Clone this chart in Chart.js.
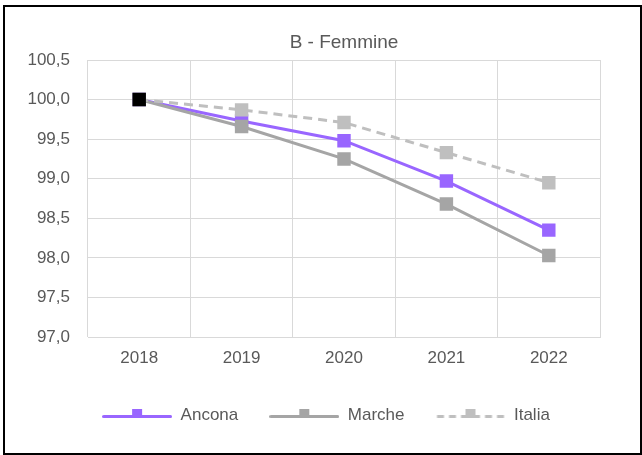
<!DOCTYPE html>
<html>
<head>
<meta charset="utf-8">
<script src="https://cdn.jsdelivr.net/npm/chart.js@4/dist/chart.umd.min.js"></script>
<style>
  html, body { margin: 0; padding: 0; background: #fff; overflow: hidden; }
  #wrap { position: relative; width: 642px; height: 455px; }
  #c { position: absolute; left: 0; top: 0; }
  #frame { position: absolute; left: 3px; top: 5px; width: 639px; height: 450px; border: 2px solid #000; box-sizing: border-box; pointer-events: none; }
</style>
</head>
<body>
<div id="wrap">
  <canvas id="c" width="642" height="455"></canvas>
  <div id="frame"></div>
</div>
<script>
const categories = ['2018', '2019', '2020', '2021', '2022'];
const ancona  = [100.0, 99.73, 99.48, 98.97, 98.35];
const marche  = [100.0, 99.66, 99.25, 98.68, 98.03];
const italia  = [100.0, 99.87, 99.71, 99.33, 98.95];
const seriesNames = ['Ancona', 'Marche', 'Italia'];
const yTicks = [97.0, 97.5, 98.0, 98.5, 99.0, 99.5, 100.0, 100.5];
const chartTitle = 'B - Femmine';

const PURPLE = '#9966FF';
const GREY = '#A5A5A5';
const LIGHT = '#BFBFBF';
const TEXT = '#595959';
const GRID = '#D9D9D9';
const FONT = "'Liberation Sans', Arial, sans-serif";

function makeIcon(color, dash) {
  const c = document.createElement('canvas');
  c.width = 70; c.height = 20;
  const x = c.getContext('2d');
  x.strokeStyle = color;
  x.lineWidth = 3;
  x.lineCap = dash ? 'butt' : 'round';
  if (dash) x.setLineDash([7, 5]);
  x.beginPath();
  x.moveTo(1.5, 11.5); x.lineTo(68.5, 11.5);
  x.stroke();
  x.fillStyle = color;
  x.fillRect(30, 4, 10, 9);
  return c;
}
const icons = [makeIcon(PURPLE, false), makeIcon(GREY, false), makeIcon(LIGHT, true)];

const ptRadius = 9.5;
const chart = new Chart(document.getElementById('c'), {
  type: 'line',
  data: {
    labels: categories,
    datasets: [
      { label: seriesNames[0], data: ancona, borderColor: PURPLE, backgroundColor: PURPLE,
        borderWidth: 3, pointStyle: 'rect', pointRadius: ptRadius, pointBorderWidth: 0,
        pointBackgroundColor: PURPLE, order: 3, tension: 0 },
      { label: seriesNames[1], data: marche, borderColor: GREY, backgroundColor: GREY,
        borderWidth: 3, pointStyle: 'rect', pointRadius: ptRadius, pointBorderWidth: 0,
        pointBackgroundColor: GREY, order: 2, tension: 0 },
      { label: seriesNames[2], data: italia, borderColor: LIGHT, backgroundColor: LIGHT,
        borderWidth: 3, borderDash: [9, 6], pointStyle: 'rect', pointRadius: ptRadius, pointBorderWidth: 0,
        pointBackgroundColor: ['#000000', LIGHT, LIGHT, LIGHT, LIGHT], order: 1, tension: 0 }
    ]
  },
  options: {
    responsive: false,
    animation: false,
    devicePixelRatio: 1,
    layout: { padding: { left: 26, right: 16, top: 31, bottom: 21.5 } },
    plugins: {
      tooltip: { enabled: false },
      title: {
        display: true, text: chartTitle, color: TEXT, fullSize: false,
        font: { family: FONT, size: 19, weight: 'normal' },
        padding: { top: 0, bottom: 6.2 }
      },
      legend: {
        position: 'bottom',
        labels: {
          usePointStyle: true,
          pointStyleWidth: 70,
          padding: 31,
          color: TEXT,
          font: { family: FONT, size: 17 },
          generateLabels: (ch) => ch.data.datasets.map((ds, i) => ({
            text: ds.label, pointStyle: icons[i], fillStyle: ds.borderColor,
            strokeStyle: ds.borderColor, lineWidth: 0, hidden: false, datasetIndex: i, fontColor: TEXT
          }))
        }
      }
    },
    scales: {
      x: {
        type: 'category',
        offset: true,
        grid: { color: GRID, lineWidth: 1, drawTicks: false, offset: true },
        border: { color: GRID, width: 1 },
        ticks: { color: TEXT, font: { family: FONT, size: 17 }, padding: 11, maxRotation: 0 },
        afterFit: (s) => { s.height = 38.5; }
      },
      y: {
        min: 97, max: 100.5,
        grid: { color: GRID, lineWidth: 1, drawTicks: false },
        border: { display: false },
        afterBuildTicks: (s) => { s.ticks = yTicks.map(v => ({ value: v })); },
        ticks: {
          color: TEXT, font: { family: FONT, size: 17 }, padding: 18,
          callback: (v) => Number(v).toFixed(1).replace('.', ',')
        },
        afterFit: (s) => { s.width = 62; }
      },
      yRight: {
        position: 'right',
        display: true,
        grid: { display: false, drawTicks: false },
        border: { display: false },
        ticks: { display: false },
        afterFit: (s) => { s.width = 26; }
      }
    }
  }
});
</script>
</body>
</html>
